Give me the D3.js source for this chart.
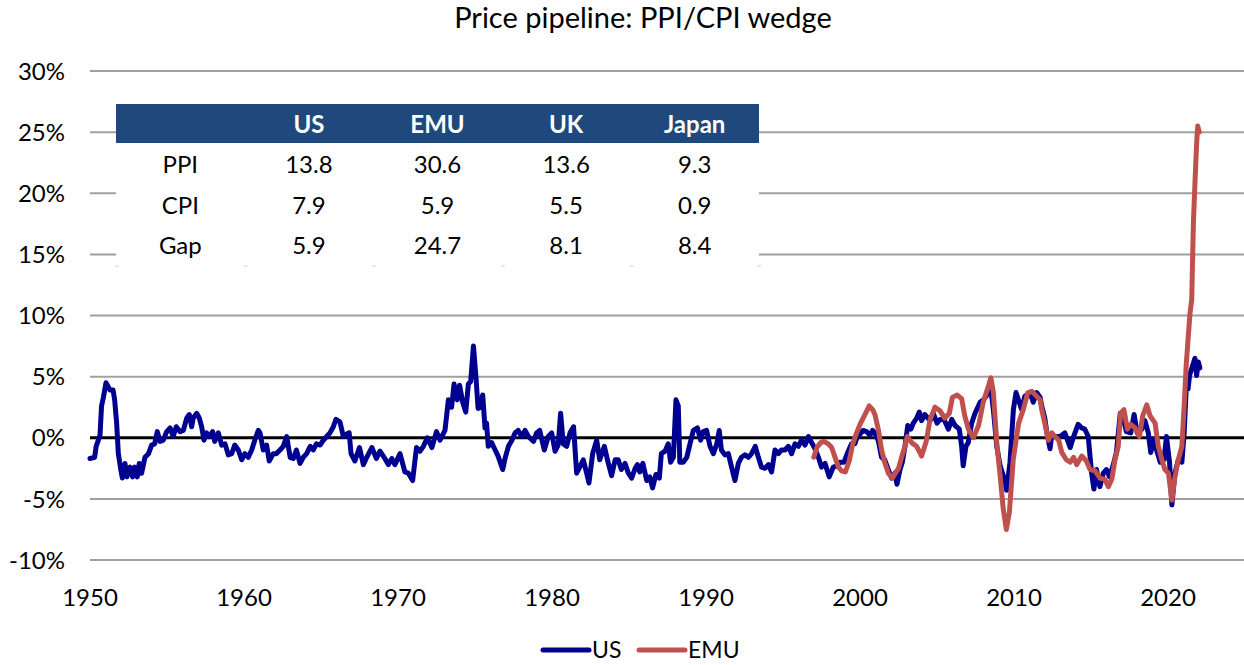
<!DOCTYPE html>
<html>
<head>
<meta charset="utf-8">
<script src="https://cdn.jsdelivr.net/npm/d3@7"></script>
<style>
body { margin: 0; background: #fff; }
text { font-family: Lato, "Open Sans", sans-serif; fill: #000; }
</style>
</head>
<body>
<svg id="chart" width="1244" height="665"></svg>
<script>
// PPI/CPI wedge, % (year as decimal, value)
var usSeries = [
	[1950.0,-1.7],[1950.3,-1.6],[1950.4,-0.7],[1950.65,0.2],[1950.75,2.6],[1950.87,3.3],[1951.04,4.5],[1951.3,3.9],
	[1951.5,3.9],[1951.6,3.1],[1951.73,1.2],[1951.84,-1.3],[1952.0,-2.6],[1952.1,-3.3],[1952.27,-2.1],[1952.4,-3.2],
	[1952.6,-2.4],[1952.77,-3.2],[1952.9,-2.4],[1953.07,-3.2],[1953.2,-2.1],[1953.35,-2.9],[1953.57,-1.6],[1953.8,-1.3],
	[1954.0,-0.6],[1954.2,-0.5],[1954.37,0.5],[1954.55,-0.3],[1954.76,-0.2],[1954.98,0.5],[1955.2,0.8],[1955.4,0.1],
	[1955.6,0.9],[1955.85,0.5],[1956.06,0.6],[1956.28,1.6],[1956.45,1.9],[1956.6,0.9],[1956.7,1.6],[1956.93,2.0],
	[1957.1,1.6],[1957.25,0.9],[1957.4,-0.2],[1957.57,0.4],[1957.74,0.1],[1957.96,0.5],[1958.1,-0.3],[1958.33,0.4],
	[1958.55,-0.6],[1958.77,-0.5],[1958.98,-1.4],[1959.2,-1.3],[1959.4,-0.6],[1959.63,-1.0],[1959.85,-1.8],[1960.06,-1.3],
	[1960.28,-1.6],[1960.5,-1.0],[1960.7,-0.2],[1960.93,0.6],[1961.04,0.4],[1961.25,-1.0],[1961.47,-0.6],[1961.64,-1.9],
	[1961.9,-1.3],[1962.1,-1.3],[1962.34,-1.0],[1962.55,-0.7],[1962.77,0.1],[1963.0,-1.6],[1963.2,-1.7],[1963.4,-1.0],
	[1963.64,-2.1],[1963.85,-1.6],[1964.07,-1.3],[1964.3,-0.7],[1964.5,-1.0],[1964.7,-0.5],[1964.94,-0.6],[1965.15,-0.2],
	[1965.37,0.1],[1965.58,0.4],[1965.8,0.9],[1965.97,1.5],[1966.23,1.3],[1966.45,0.1],[1966.67,0.3],[1966.83,0.4],
	[1966.95,-1.3],[1967.2,-1.9],[1967.5,-0.8],[1967.75,-2.2],[1967.97,-1.6],[1968.3,-0.8],[1968.6,-1.7],[1968.83,-1.1],
	[1969.15,-1.7],[1969.37,-2.2],[1969.6,-1.7],[1969.8,-2.2],[1970.13,-1.3],[1970.45,-2.8],[1970.67,-2.9],[1970.95,-3.5],
	[1971.2,-0.8],[1971.43,-1.1],[1971.65,-0.7],[1971.9,0.0],[1972.2,-0.8],[1972.5,0.5],[1972.73,-0.2],[1973.05,0.6],
	[1973.27,3.1],[1973.48,2.5],[1973.64,4.4],[1973.85,3.1],[1974.0,4.3],[1974.2,2.9],[1974.4,2.1],[1974.57,4.4],
	[1974.72,4.6],[1974.9,7.5],[1975.06,5.0],[1975.2,2.4],[1975.37,2.5],[1975.5,3.5],[1975.65,0.8],[1975.75,1.2],
	[1975.86,-0.7],[1976.08,-0.4],[1976.23,-0.8],[1976.5,-1.5],[1976.8,-2.6],[1976.95,-1.7],[1977.17,-0.7],[1977.4,-0.2],
	[1977.6,0.4],[1977.8,0.6],[1978.03,0.1],[1978.25,0.6],[1978.46,0.1],[1978.8,-0.3],[1979.0,0.4],[1979.2,0.6],
	[1979.5,-1.0],[1979.76,0.1],[1979.98,0.4],[1980.2,-1.1],[1980.4,-0.6],[1980.56,2.0],[1980.73,-0.5],[1980.95,-0.7],
	[1981.17,0.4],[1981.4,0.9],[1981.6,-2.9],[1981.8,-2.4],[1982.03,-1.8],[1982.25,-2.9],[1982.4,-3.7],[1982.64,-1.3],
	[1982.9,-0.2],[1983.1,-1.8],[1983.4,-0.7],[1983.6,-1.8],[1983.87,-3.1],[1984.1,-1.8],[1984.3,-1.8],[1984.5,-2.6],
	[1984.74,-2.1],[1984.96,-2.9],[1985.17,-3.3],[1985.4,-2.5],[1985.55,-2.2],[1985.7,-2.8],[1985.9,-2.1],[1986.15,-3.5],
	[1986.35,-3.2],[1986.53,-4.1],[1986.75,-3.0],[1986.97,-3.3],[1987.1,-1.3],[1987.34,-1.1],[1987.55,-0.5],[1987.7,-2.0],
	[1987.88,-1.6],[1988.05,3.1],[1988.2,2.6],[1988.3,-2.0],[1988.53,-2.0],[1988.75,-1.6],[1988.96,-0.5],[1989.18,0.6],
	[1989.44,0.8],[1989.65,-0.2],[1989.82,0.5],[1990.04,0.6],[1990.26,-0.7],[1990.48,-1.3],[1990.7,-0.5],[1990.86,0.6],
	[1991.0,-1.0],[1991.23,-1.4],[1991.45,-1.3],[1991.66,-2.4],[1991.88,-3.5],[1992.1,-2.1],[1992.3,-1.6],[1992.53,-1.4],
	[1992.75,-1.6],[1992.96,-1.3],[1993.2,-0.7],[1993.4,-1.6],[1993.6,-2.4],[1993.83,-2.5],[1994.05,-2.2],[1994.26,-2.8],
	[1994.48,-1.0],[1994.7,-1.3],[1994.9,-1.0],[1995.13,-1.0],[1995.35,-0.7],[1995.56,-1.3],[1995.78,-0.5],[1996.0,-0.7],
	[1996.2,-0.2],[1996.43,-0.6],[1996.65,0.1],[1996.86,-0.4],[1997.08,-0.9],[1997.3,-1.6],[1997.5,-2.4],[1997.73,-2.1],
	[1998.0,-3.2],[1998.27,-2.4],[1998.5,-2.3],[1998.7,-2.0],[1998.96,-2.0],[1999.2,-1.2],[1999.45,-0.5],[1999.67,-0.5],
	[1999.82,0.1],[2000.0,0.3],[2000.2,0.6],[2000.43,0.5],[2000.65,0.2],[2000.82,0.6],[2000.97,0.4],[2001.2,-0.3],
	[2001.4,-1.6],[2001.6,-1.8],[2001.84,-2.6],[2002.05,-3.3],[2002.27,-2.9],[2002.4,-3.8],[2002.6,-2.6],[2002.75,-2.0],
	[2002.92,-0.7],[2003.1,1.0],[2003.3,0.7],[2003.46,1.2],[2003.68,1.6],[2003.85,2.1],[2004.0,1.4],[2004.2,1.9],
	[2004.55,1.4],[2004.76,2.0],[2005.0,1.2],[2005.2,1.5],[2005.46,1.5],[2005.74,0.7],[2005.96,1.5],[2006.17,1.0],
	[2006.45,0.7],[2006.6,-0.7],[2006.7,-2.3],[2006.88,-0.7],[2007.03,-0.4],[2007.25,1.2],[2007.47,2.0],[2007.8,2.9],
	[2008.0,3.1],[2008.2,3.4],[2008.44,4.5],[2008.66,2.3],[2008.88,-0.7],[2009.1,-2.3],[2009.35,-3.3],[2009.52,-4.3],
	[2009.74,-2.0],[2009.96,2.3],[2010.13,3.7],[2010.34,2.9],[2010.5,2.3],[2010.7,3.4],[2011.04,3.7],[2011.25,2.9],
	[2011.47,3.7],[2011.7,3.3],[2011.8,2.6],[2012.0,1.6],[2012.1,0.7],[2012.23,-0.2],[2012.34,-0.9],[2012.45,0.2],
	[2012.66,0.1],[2013.0,0.1],[2013.3,0.4],[2013.65,-0.8],[2013.87,0.1],[2014.16,1.1],[2014.4,0.8],[2014.6,0.7],
	[2014.82,0.1],[2015.04,-2.9],[2015.19,-4.2],[2015.36,-2.6],[2015.58,-4.0],[2015.8,-2.9],[2016.0,-2.6],[2016.2,-3.2],
	[2016.43,-2.3],[2016.65,-1.2],[2016.9,2.0],[2017.1,1.5],[2017.3,0.5],[2017.58,0.4],[2017.8,1.9],[2018.0,0.4],
	[2018.3,0.7],[2018.5,1.4],[2018.72,0.4],[2018.88,-1.2],[2019.1,-0.1],[2019.26,-1.0],[2019.5,-2.0],[2019.74,-1.8],
	[2019.9,0.1],[2020.1,-2.0],[2020.25,-5.5],[2020.45,-2.9],[2020.67,-1.8],[2020.9,-2.0],[2021.05,0.4],[2021.2,4.5],
	[2021.3,4.0],[2021.4,5.1],[2021.6,5.9],[2021.75,6.5],[2021.86,5.1],[2021.97,6.2],[2022.07,5.7]
];

var emuSeries = [
	[1997.0,-1.6],[1997.2,-0.8],[1997.45,-0.4],[1997.66,-0.3],[1997.94,-0.5],[1998.16,-0.8],[1998.38,-1.6],[1998.6,-2.4],
	[1998.8,-2.7],[1999.05,-2.8],[1999.3,-1.9],[1999.53,-0.5],[1999.78,0.4],[2000.0,1.1],[2000.32,1.9],[2000.6,2.6],
	[2000.82,2.3],[2000.97,1.9],[2001.2,0.6],[2001.4,-1.0],[2001.6,-2.0],[2001.84,-2.9],[2002.1,-3.3],[2002.3,-2.9],
	[2002.5,-2.5],[2002.7,-1.6],[2002.92,-0.7],[2003.07,0.1],[2003.35,-0.4],[2003.68,-0.7],[2004.0,-1.5],[2004.3,-0.3],
	[2004.55,1.5],[2004.87,2.5],[2005.2,2.2],[2005.5,1.6],[2005.8,2.0],[2006.0,3.3],[2006.3,3.5],[2006.6,3.2],
	[2006.8,1.8],[2007.04,0.7],[2007.36,0.0],[2007.7,1.0],[2008.0,2.9],[2008.33,4.2],[2008.5,4.9],[2008.66,3.7],
	[2008.88,-0.4],[2009.1,-3.1],[2009.3,-5.8],[2009.5,-7.5],[2009.7,-6.1],[2009.95,-1.8],[2010.3,1.2],[2010.6,2.3],
	[2010.9,3.7],[2011.15,3.8],[2011.47,3.4],[2011.7,3.1],[2011.8,2.3],[2012.0,1.2],[2012.23,-0.2],[2012.45,0.4],
	[2012.66,0.1],[2012.9,-0.2],[2013.1,-1.2],[2013.4,-1.8],[2013.65,-2.0],[2013.87,-1.6],[2014.07,-2.2],[2014.4,-1.5],
	[2014.7,-1.9],[2014.94,-2.6],[2015.26,-2.7],[2015.58,-3.3],[2015.9,-3.4],[2016.13,-4.0],[2016.35,-3.4],[2016.56,-1.8],
	[2016.77,-0.7],[2016.92,2.0],[2017.14,2.3],[2017.36,0.7],[2017.58,1.1],[2017.86,0.8],[2018.14,0.1],[2018.36,1.8],
	[2018.62,2.7],[2018.83,1.8],[2019.16,1.2],[2019.37,-0.7],[2019.6,-1.8],[2019.8,-2.6],[2020.03,-2.9],[2020.25,-5.1],
	[2020.45,-3.2],[2020.67,-1.8],[2020.9,-0.7],[2021.05,2.6],[2021.18,5.9],[2021.3,8.0],[2021.43,10.2],[2021.54,11.3],
	[2021.65,17.6],[2021.75,20.8],[2021.86,24.1],[2021.93,25.5],[2022.03,25.0]
];

var yTicks = [-10, -5, 0, 5, 10, 15, 20, 25, 30];
var xTicks = [1950, 1960, 1970, 1980, 1990, 2000, 2010, 2020];

var tableCols = ["US", "EMU", "UK", "Japan"];
var tableRows = ["PPI", "CPI", "Gap"];
var tableVals = [
	[13.8, 30.6, 13.6, 9.3],
	[7.9, 5.9, 5.5, 0.9],
	[5.9, 24.7, 8.1, 8.4]
];

var usColor = "#000090";
var emuColor = "#C0504D";

var svg = d3.select("#chart");

var x = d3.scaleLinear().domain([1950, 2025]).range([90, 1245]);
var y = d3.scaleLinear().domain([-10, 30]).range([560, 71]);

svg.append("text")
	.attr("x", 643)
	.attr("y", 28)
	.attr("text-anchor", "middle")
	.style("font-size", "29px")
	.text("Price pipeline: PPI/CPI wedge");

// gridlines
svg.append("g").selectAll("line")
	.data(yTicks.filter(function(d) { return d !== 0; }))
	.enter()
	.append("line")
	.attr("x1", x(1950))
	.attr("x2", x(2025))
	.attr("y1", function(d) { return y(d); })
	.attr("y2", function(d) { return y(d); })
	.style("stroke", "#a0a0a0")
	.style("stroke-width", 2);

svg.append("g").selectAll("text")
	.data(yTicks)
	.enter()
	.append("text")
	.attr("x", 65)
	.attr("y", function(d) { return y(d); })
	.attr("dy", "0.36em")
	.attr("text-anchor", "end")
	.style("font-size", "24px")
	.text(function(d) { return d + "%"; });

svg.append("g").selectAll("text")
	.data(xTicks)
	.enter()
	.append("text")
	.attr("x", function(d) { return x(d); })
	.attr("y", 606)
	.attr("text-anchor", "middle")
	.style("font-size", "24px")
	.text(function(d) { return d; });

// zero axis line
svg.append("line")
	.attr("x1", x(1950))
	.attr("x2", x(2025))
	.attr("y1", y(0))
	.attr("y2", y(0))
	.style("stroke", "#000")
	.style("stroke-width", 3);

var line = d3.line()
	.x(function(d) { return x(d[0]); })
	.y(function(d) { return y(d[1]); });

svg.append("path")
	.datum(usSeries)
	.attr("d", line)
	.style("fill", "none")
	.style("stroke", usColor)
	.style("stroke-width", 5)
	.style("stroke-linejoin", "round")
	.style("stroke-linecap", "round");

svg.append("path")
	.datum(emuSeries)
	.attr("d", line)
	.style("fill", "none")
	.style("stroke", emuColor)
	.style("stroke-width", 5)
	.style("stroke-linejoin", "round")
	.style("stroke-linecap", "round");

// table
var colX = d3.scaleBand().domain(["label"].concat(tableCols)).range([116, 759]);
var rowY = d3.scaleBand().domain(["head"].concat(tableRows)).range([104, 266]);

var table = svg.append("g");
table.append("rect")
	.attr("x", 116)
	.attr("y", 104)
	.attr("width", 759 - 116)
	.attr("height", 266 - 104)
	.style("fill", "#fff");
table.append("rect")
	.attr("x", 116)
	.attr("y", 104)
	.attr("width", 759 - 116)
	.attr("height", 39)
	.style("fill", "#1F497D");
table.selectAll(".edge")
	.data(colX.domain().concat(["end"]))
	.enter()
	.append("line")
	.attr("class", "edge")
	.attr("x1", function(d, i) { return i < 5 ? colX(d) - 1 : 757; })
	.attr("x2", function(d, i) { return i < 5 ? colX(d) + 3 : 761; })
	.attr("y1", 266)
	.attr("y2", 266)
	.style("stroke", "#d0d0d0")
	.style("stroke-width", 1);

table.selectAll(".head")
	.data(tableCols)
	.enter()
	.append("text")
	.attr("class", "head")
	.attr("x", function(d) { return colX(d) + colX.bandwidth() / 2; })
	.attr("y", 124)
	.attr("dy", "0.36em")
	.attr("text-anchor", "middle")
	.style("font-size", "24px")
	.style("font-weight", "bold")
	.style("fill", "#fff")
	.text(function(d) { return d; });

var rows = table.selectAll(".row")
	.data(tableRows)
	.enter()
	.append("g")
	.attr("class", "row")
	.attr("transform", function(d) { return "translate(0," + (rowY(d) + rowY.bandwidth() / 2) + ")"; });
rows.append("text")
	.attr("x", colX("label") + colX.bandwidth() / 2)
	.attr("dy", "0.36em")
	.attr("text-anchor", "middle")
	.style("font-size", "24px")
	.text(function(d) { return d; });
rows.selectAll(".val")
	.data(function(d, i) { return tableVals[i]; })
	.enter()
	.append("text")
	.attr("class", "val")
	.attr("x", function(d, i) { return colX(tableCols[i]) + colX.bandwidth() / 2; })
	.attr("dy", "0.36em")
	.attr("text-anchor", "middle")
	.style("font-size", "24px")
	.text(function(d) { return d.toFixed(1); });

// legend
var legend = svg.append("g").selectAll("g")
	.data([["US", usColor, 543], ["EMU", emuColor, 639]])
	.enter()
	.append("g")
	.attr("transform", function(d) { return "translate(" + d[2] + ",650)"; });
legend.append("line")
	.attr("x1", 0)
	.attr("x2", 46)
	.style("stroke", function(d) { return d[1]; })
	.style("stroke-width", 5)
	.style("stroke-linecap", "round");
legend.append("text")
	.attr("x", 49)
	.attr("dy", "0.36em")
	.style("font-size", "23px")
	.text(function(d) { return d[0]; });
</script>
</body>
</html>
